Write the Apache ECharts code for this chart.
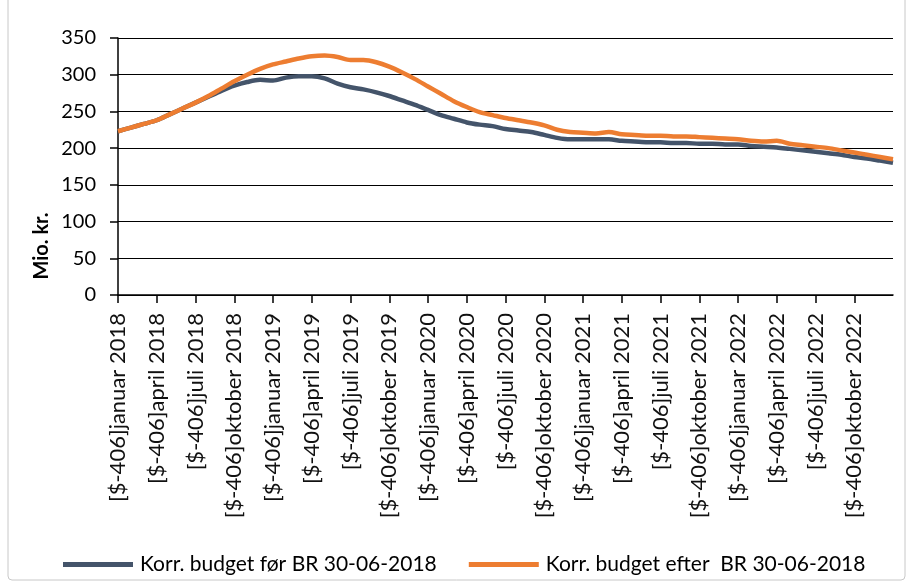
<!DOCTYPE html>
<html>
<head>
<meta charset="utf-8">
<script src="https://cdn.jsdelivr.net/npm/echarts@6/dist/echarts.min.js"></script>
<style>html,body{margin:0;padding:0;background:#fff}#c{width:911px;height:584px}</style>
</head>
<body>
<div id="c"></div>
<script>
const monthNames = ['januar','februar','marts','april','maj','juni','juli','august','september','oktober','november','december'];
const years = [2018, 2019, 2020, 2021, 2022, 2023];
const labelPrefix = '[$-406]';
const seriesNames = ['Korr. budget før BR 30-06-2018', 'Korr. budget efter  BR 30-06-2018'];
const yTicks = { min: 0, max: 350, interval: 50 };
const axisTitle = 'Mio. kr.';

// monthly values, januar 2018 .. januar 2023
const budgetFoer = [223,228,233,238,246,254,262,270,278,285,290,293,292,296,298,298,295,288,283,280,276,271,265,259,252,245,240,235,232,230,226,224,222,218,214,212,212,212,212,210,209,208,208,207,207,206,206,205,205,203,202,201,199,197,195,193,191,188,186,183,180];
const budgetEfter = [223,228,233,238,246,254,262,271,281,291,300,308,314,318,322,325,326,324,320,320,317,311,303,294,284,274,264,256,249,245,241,238,235,231,225,222,221,220,222,219,218,217,217,216,216,215,214,213,212,210,209,210,206,204,202,200,197,194,191,188,185];

const categories = [];
for (let i = 0; i < budgetFoer.length; i++) {
  const y = years[Math.floor(i / 12)];
  categories.push(labelPrefix + monthNames[i % 12] + ' ' + y);
}

const FONT = 'Lato, "Liberation Sans", sans-serif';
const chart = echarts.init(document.getElementById('c'), null, { renderer: 'canvas' });
const lastIdx = categories.length - 1;
chart.setOption({
  animation: false,
  backgroundColor: '#fff',
  grid: { left: 118, right: 18, top: 38, bottom: 289, containLabel: false },
  graphic: [
    { type: 'rect', shape: { x: 8, y: -4, width: 897, height: 584, r: 4 }, style: { fill: 'none', stroke: '#c8c8c8', lineWidth: 1 }, silent: true },
    { type: 'text', x: 42, y: 246, rotation: Math.PI / 2, style: { text: axisTitle, font: 'bold 20px ' + FONT, fill: '#000', align: 'center', verticalAlign: 'middle' } }
  ],
  legend: {
    left: 58, top: 549,
    itemWidth: 70, itemHeight: 5, itemGap: 32,
    icon: 'rect',
    textStyle: { fontFamily: FONT, fontSize: 21, color: '#000', padding: [0, 0, 0, 2] },
    data: seriesNames
  },
  xAxis: {
    type: 'category',
    data: categories,
    boundaryGap: false,
    axisLine: { lineStyle: { color: '#000', width: 1.5 } },
    axisTick: { show: true, length: 8, inside: false, lineStyle: { color: '#000', width: 1.5 }, interval: (i) => i % 3 === 0 && i < lastIdx },
    axisLabel: { rotate: 90, interval: (i) => i % 3 === 0 && i < lastIdx, fontFamily: FONT, fontSize: 22, color: '#111', margin: 18 },
    splitLine: { show: false }
  },
  yAxis: {
    type: 'value',
    min: yTicks.min, max: yTicks.max, interval: yTicks.interval,
    axisLine: { show: true, lineStyle: { color: '#000', width: 1.5 } },
    axisTick: { show: true, length: 8, lineStyle: { color: '#000', width: 1.5 } },
    axisLabel: { fontFamily: FONT, fontSize: 20, color: '#000', margin: 22 },
    splitLine: { show: true, lineStyle: { color: '#000', width: 1.2 } }
  },
  series: [
    { name: seriesNames[0], type: 'line', data: budgetFoer, showSymbol: false, smooth: 0.3, lineStyle: { color: '#44546A', width: 4.5 }, itemStyle: { color: '#44546A' } },
    { name: seriesNames[1], type: 'line', data: budgetEfter, showSymbol: false, smooth: 0.3, lineStyle: { color: '#ED7D31', width: 4.5 }, itemStyle: { color: '#ED7D31' } }
  ]
});
</script>
</body>
</html>
